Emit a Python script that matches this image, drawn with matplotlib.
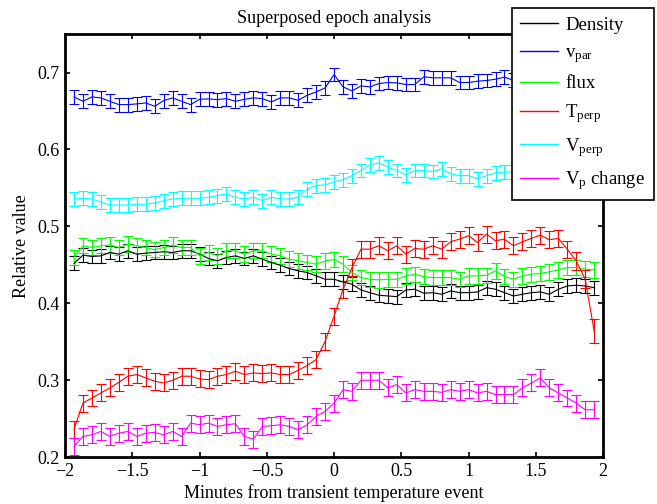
import numpy as np
import matplotlib
matplotlib.use("Agg")
import matplotlib.pyplot as plt
from matplotlib.lines import Line2D
from matplotlib.ticker import FuncFormatter


# Data, one point every 4 s
minutes = np.arange(-116, 117, 4) / 60.0

density = [
    0.452, 0.4627, 0.4610, 0.4618, 0.4662, 0.4640, 0.4684, 0.4640, 0.4653, 0.4662,
    0.4671, 0.4662, 0.4684, 0.4684, 0.4640, 0.4584, 0.4553, 0.4597, 0.4618, 0.4584,
    0.4618, 0.4575, 0.4532, 0.4497, 0.4453, 0.4423, 0.4401, 0.4358, 0.4314, 0.4314,
    0.4279, 0.4249, 0.4175, 0.4140, 0.4106, 0.4097, 0.4088, 0.4175, 0.4184, 0.4132,
    0.4140, 0.4119, 0.4162, 0.4140, 0.4140, 0.4149, 0.4205, 0.4184, 0.4140, 0.4097,
    0.4119, 0.4140, 0.4149, 0.4119, 0.4184, 0.4227, 0.4236, 0.4227, 0.4205,
]
v_par = [
    0.6683, 0.6626, 0.6683, 0.6670, 0.6626, 0.6583, 0.6583, 0.6592, 0.6605, 0.6561,
    0.6635, 0.6670, 0.6626, 0.6583, 0.6652, 0.6657, 0.6648, 0.6661, 0.6626, 0.6652,
    0.6670, 0.6661, 0.6618, 0.6670, 0.6670, 0.6639, 0.6705, 0.6748, 0.6800, 0.6974,
    0.6813, 0.6761, 0.6826, 0.6813, 0.6857, 0.6870, 0.6865, 0.6844, 0.6844, 0.6944,
    0.6931, 0.6931, 0.6931, 0.6870, 0.6870, 0.6887, 0.6896, 0.6913, 0.6940, 0.6900,
    0.6880, 0.6890, 0.6910, 0.6870, 0.6880, 0.6900, 0.6890, 0.6880, 0.6900,
]
flux = [
    0.4600, 0.4749, 0.4727, 0.4749, 0.4758, 0.4727, 0.4771, 0.4749, 0.4727, 0.4697,
    0.4727, 0.4758, 0.4727, 0.4727, 0.4618, 0.4662, 0.4618, 0.4684, 0.4684, 0.4640,
    0.4684, 0.4684, 0.4640, 0.4618, 0.4575, 0.4553, 0.4532, 0.4510, 0.4553, 0.4570,
    0.4510, 0.4401, 0.4336, 0.4314, 0.4306, 0.4314, 0.4314, 0.4358, 0.4379, 0.4349,
    0.4336, 0.4336, 0.4336, 0.4314, 0.4358, 0.4358, 0.4366, 0.4423, 0.4349, 0.4314,
    0.4358, 0.4379, 0.4392, 0.4410, 0.4436, 0.4466, 0.4466, 0.4445, 0.4436,
]
t_perp = [
    0.2367, 0.2706, 0.2771, 0.2837, 0.2902, 0.2976, 0.3054, 0.3076, 0.3032, 0.2989,
    0.2967, 0.3002, 0.3054, 0.3054, 0.3019, 0.3010, 0.3054, 0.3076, 0.3119, 0.3076,
    0.3097, 0.3089, 0.3097, 0.3076, 0.3076, 0.3132, 0.3193, 0.3271, 0.3510, 0.3836,
    0.4184, 0.4466, 0.4705, 0.4705, 0.4749, 0.4684, 0.4749, 0.4640, 0.4714, 0.4705,
    0.4749, 0.4705, 0.4801, 0.4836, 0.4879, 0.4792, 0.4901, 0.4814, 0.4836, 0.4749,
    0.4801, 0.4845, 0.4888, 0.4827, 0.4845, 0.4705, 0.4553, 0.4314, 0.3640,
]
v_perp = [
    0.5357, 0.5366, 0.5357, 0.5314, 0.5279, 0.5279, 0.5279, 0.5288, 0.5288, 0.5305,
    0.5336, 0.5357, 0.5366, 0.5366, 0.5366, 0.5379, 0.5401, 0.5422, 0.5379, 0.5357,
    0.5379, 0.5336, 0.5379, 0.5357, 0.5357, 0.5379, 0.5488, 0.5531, 0.5540, 0.5575,
    0.5609, 0.5661, 0.5727, 0.5800, 0.5826, 0.5770, 0.5727, 0.5670, 0.5727, 0.5727,
    0.5714, 0.5748, 0.5683, 0.5661, 0.5661, 0.5618, 0.5661, 0.5696, 0.5705, 0.5710,
    0.5690, 0.5720, 0.5700, 0.5680, 0.5700, 0.5710, 0.5690, 0.5700, 0.5680,
]
vp_change = [
    0.2141, 0.2272, 0.2293, 0.2337, 0.2272, 0.2315, 0.2337, 0.2272, 0.2315, 0.2324,
    0.2293, 0.2337, 0.2272, 0.2445, 0.2424, 0.2445, 0.2402, 0.2424, 0.2437, 0.2272,
    0.2237, 0.2402, 0.2411, 0.2424, 0.2402, 0.2359, 0.2424, 0.2532, 0.2598, 0.2706,
    0.2880, 0.2858, 0.3002, 0.3002, 0.3002, 0.2902, 0.2945, 0.2837, 0.2880, 0.2858,
    0.2858, 0.2845, 0.2880, 0.2858, 0.2880, 0.2837, 0.2858, 0.2815, 0.2815, 0.2815,
    0.2902, 0.2967, 0.3032, 0.2902, 0.2837, 0.2771, 0.2706, 0.2619, 0.2619,
]

# error bar half-heights
density_err = 0.009
v_par_err = 0.009
flux_err = 0.010
t_perp_err = [0.011] * 56 + [0.012, 0.012, 0.016]
v_perp_err = 0.009
vp_change_err = 0.011

labels = ["Density", r"v$_{\mathrm{par}}$", "flux", r"T$_{\mathrm{perp}}$",
          r"V$_{\mathrm{perp}}$", r"V$_{\mathrm{p}}$ change"]
colors = ["black", "blue", "lime", "red", "cyan", "magenta"]


plt.rcParams["font.family"] = ["Liberation Serif", "DejaVu Serif"]
plt.rcParams["mathtext.fontset"] = "custom"
plt.rcParams["mathtext.rm"] = "Liberation Serif"
plt.rcParams["mathtext.it"] = "Liberation Serif:italic"
plt.rcParams["font.size"] = 13

fig = plt.figure(figsize=(6.57, 5.04), dpi=100)
ax = fig.add_axes([0.099, 0.0925, 0.819, 0.840])

series = [
    (density, density_err),
    (v_par, v_par_err),
    (flux, flux_err),
    (t_perp, t_perp_err),
    (v_perp, v_perp_err),
    (vp_change, vp_change_err),
]
for (vals, err), col in zip(series, colors):
    ax.errorbar(minutes, vals, yerr=err, color=col, fmt="-", lw=0.8,
                elinewidth=0.8, capsize=3.3, capthick=0.8)

ax.set_xlim(-2, 2)
ax.set_ylim(0.2, 0.75)
ax.set_xticks(np.arange(-2, 2.01, 0.5))
ax.set_yticks([0.2, 0.3, 0.4, 0.5, 0.6, 0.7])
ax.xaxis.set_major_formatter(FuncFormatter(lambda v, p: f"{v:g}".replace("-", "\u2212")))
ax.yaxis.set_major_formatter(FuncFormatter(lambda v, p: f"{v:.1f}"))
ax.tick_params(direction="in", length=3.6, width=1.2, top=True, right=True, labelsize=13, pad=4)
for sp in ax.spines.values():
    sp.set_linewidth(2.0)

ax.set_title("Superposed epoch analysis", fontsize=13, pad=8)
ax.set_xlabel("Minutes from transient temperature event", fontsize=13, labelpad=3)
ax.set_ylabel("Relative value", fontsize=13, labelpad=5)

handles = [Line2D([], [], color=c, lw=1.0) for c in colors]
leg = fig.legend(handles, labels, loc="upper left", bbox_to_anchor=(0.779, 0.984),
                 borderaxespad=0, frameon=True, fancybox=False, framealpha=1,
                 edgecolor="black", fontsize=13.5, handlelength=2.0, handletextpad=0.4,
                 labelspacing=0.55, borderpad=0.45)
leg.get_frame().set_linewidth(1.2)

fig.savefig("out.png", dpi=100)
